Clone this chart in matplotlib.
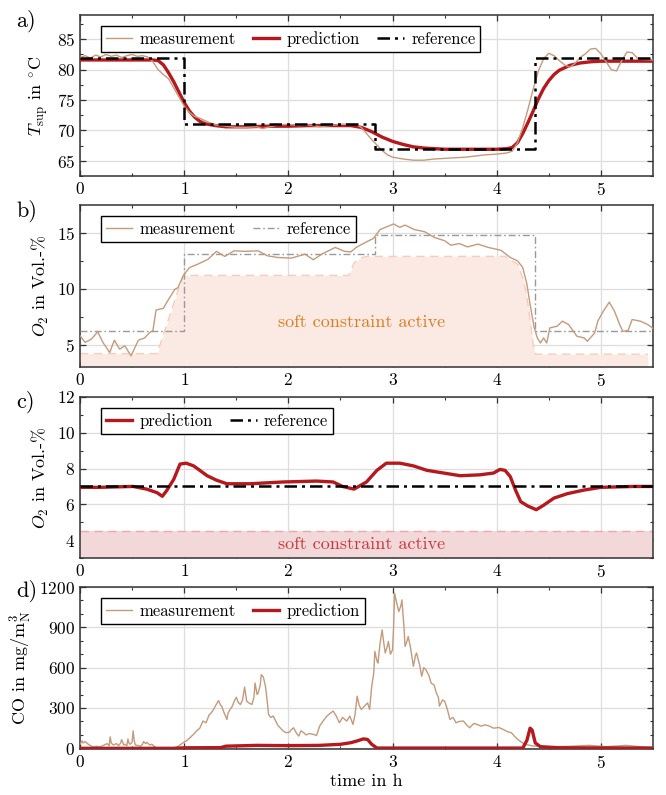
import numpy as np
import matplotlib
matplotlib.use('Agg')
import matplotlib.pyplot as plt

# ---- panel a: supply temperature ----
t_a_ref = [0, 1.0, 2.83, 4.37, 5.5]
a_ref = [82, 71, 67, 82, 82]

t_a_pred = [0, 0.3, 0.5, 0.7, 0.75, 0.8, 0.85, 0.9, 0.95, 1.0, 1.05, 1.1, 1.15, 1.2, 1.3, 1.4,
            1.6, 1.8, 2.0, 2.2, 2.4, 2.6, 2.7, 2.8, 2.9, 3.0, 3.1, 3.2, 3.3, 3.5, 3.8, 4.0,
            4.1, 4.15, 4.2, 4.25, 4.3, 4.35, 4.4, 4.45, 4.5, 4.55, 4.6, 4.7, 4.8, 4.9, 5.0, 5.2, 5.5]
a_pred = [81.6, 81.6, 81.6, 81.6, 81.5, 80.8, 79.5, 78.0, 76.3, 74.6, 73.2, 72.2, 71.5, 71.1, 70.8, 70.6,
          70.6, 70.7, 70.7, 70.8, 70.8, 70.8, 70.5, 69.8, 68.9, 68.2, 67.7, 67.3, 67.1, 66.9, 66.9, 66.9,
          67.0, 67.2, 68.0, 69.5, 71.3, 73.2, 75.2, 76.9, 78.2, 79.2, 79.9, 80.7, 81.1, 81.3, 81.4, 81.4, 81.4]

t_a_meas = [0, 0.05, 0.1, 0.15, 0.2, 0.25, 0.3, 0.35, 0.4, 0.45, 0.5, 0.55, 0.6, 0.65, 0.7, 0.75,
            0.8, 0.85, 0.9, 0.95, 1.0, 1.05, 1.1, 1.15, 1.2, 1.3, 1.4, 1.5, 1.6, 1.7, 1.75, 1.8,
            1.9, 2.0, 2.1, 2.2, 2.3, 2.4, 2.5, 2.6, 2.65, 2.7, 2.75, 2.8, 2.85, 2.9, 2.95, 3.0,
            3.1, 3.2, 3.3, 3.4, 3.5, 3.6, 3.7, 3.8, 3.9, 4.0, 4.1, 4.15, 4.2, 4.25, 4.3, 4.35,
            4.4, 4.45, 4.5, 4.55, 4.6, 4.65, 4.7, 4.75, 4.8, 4.85, 4.9, 4.95, 5.0, 5.05, 5.1,
            5.15, 5.2, 5.25, 5.3, 5.35, 5.4, 5.5]
a_meas = [82.0, 82.3, 81.9, 82.4, 82.1, 82.5, 82.2, 82.4, 82.0, 82.3, 82.5, 82.2, 82.3, 82.1, 81.3, 80.0,
          79.2, 78.5, 77.0, 75.5, 74.0, 73.0, 72.3, 72.0, 71.6, 70.9, 70.7, 70.5, 70.5, 70.6, 70.3, 70.5,
          70.9, 71.0, 70.8, 70.9, 70.6, 70.8, 71.0, 71.0, 71.0, 70.5, 69.5, 68.5, 67.6, 66.7, 66.0, 65.6,
          65.3, 65.1, 65.1, 65.3, 65.4, 65.5, 65.6, 65.8, 66.0, 66.1, 66.3, 66.6, 68.0, 70.5, 73.5, 76.8,
          79.8, 81.8, 82.7, 82.3, 81.5, 80.8, 80.4, 81.0, 82.0, 82.6, 83.4, 83.5, 82.6, 81.3, 80.0,
          79.8, 81.5, 82.9, 82.8, 81.9, 81.7, 81.6]

# ---- panel b: O2 measurement ----
t_b_ref = [0, 1.0, 2.83, 4.37, 5.5]
b_ref = [6.2, 13.1, 14.8, 6.2, 6.2]

t_b_soft = [0, 0.74, 0.99, 2.58, 2.63, 2.69, 2.75, 4.08, 4.2, 4.26, 4.3, 4.35, 4.37, 5.45]
b_soft = [4.2, 4.2, 11.2, 11.2, 12.3, 12.75, 12.9, 12.9, 12.2, 10.7, 8.6, 5.0, 4.15, 4.15]

t_b_meas = [0, 0.05, 0.11, 0.17, 0.22, 0.285, 0.33, 0.38, 0.43, 0.49, 0.56, 0.62, 0.67, 0.70,
            0.73, 0.80, 0.84, 0.91, 0.94, 0.99, 1.05, 1.13, 1.23, 1.31, 1.39, 1.48, 1.58, 1.71,
            1.80, 1.90, 2.03, 2.16, 2.24, 2.32, 2.45, 2.54, 2.60, 2.65, 2.75, 2.815, 2.88, 3.01,
            3.07, 3.12, 3.21, 3.31, 3.40, 3.50, 3.56, 3.64, 3.72, 3.82, 3.92, 4.04, 4.13, 4.20,
            4.25, 4.29, 4.32, 4.36, 4.39, 4.42, 4.45, 4.48, 4.51, 4.58, 4.63, 4.69, 4.77, 4.84,
            4.87, 4.94, 4.97, 5.02, 5.08, 5.13, 5.18, 5.21, 5.26, 5.30, 5.38, 5.45, 5.5]
b_meas = [5.8, 5.2, 5.5, 6.15, 5.2, 4.3, 5.4, 4.6, 4.9, 4.0, 5.4, 5.6, 6.1, 6.25,
          8.1, 8.25, 8.9, 9.95, 10.1, 11.15, 11.9, 12.2, 12.65, 13.35, 12.9, 13.4, 13.35, 13.4,
          12.95, 12.8, 12.75, 13.1, 12.6, 13.1, 13.7, 13.35, 13.3, 13.7, 14.2, 14.5, 15.3, 15.8,
          15.5, 15.7, 15.3, 15.1, 14.6, 14.3, 13.9, 14.05, 13.75, 14.0, 13.7, 13.45, 12.8, 12.5,
          11.9, 10.4, 8.6, 6.5, 5.6, 5.15, 5.6, 5.15, 6.5, 6.65, 7.1, 6.8, 5.75, 5.6,
          5.3, 6.05, 7.1, 7.95, 8.8, 8.0, 6.8, 6.2, 6.25, 7.25, 7.1, 6.8, 6.45]

# ---- panel c: O2 prediction ----
t_c_ref = [0, 5.5]
c_ref = [7.0, 7.0]
c_soft_low, c_soft_high = 3.0, 4.5

t_c_pred = [0, 0.19, 0.51, 0.64, 0.74, 0.79, 0.83, 0.90, 0.96, 1.02, 1.09, 1.15, 1.22, 1.31,
            1.41, 1.63, 1.95, 2.27, 2.43, 2.52, 2.63, 2.75, 2.85, 2.94, 3.07, 3.20, 3.33, 3.49,
            3.65, 3.84, 3.97, 4.03, 4.08, 4.13, 4.18, 4.23, 4.30, 4.38, 4.45, 4.55, 4.68, 4.84,
            5.00, 5.32, 5.5]
c_pred = [6.95, 6.95, 7.0, 6.85, 6.65, 6.45, 6.75, 7.4, 8.25, 8.3, 8.15, 7.9, 7.6, 7.35,
          7.15, 7.15, 7.25, 7.3, 7.25, 7.0, 6.85, 7.25, 7.9, 8.3, 8.3, 8.15, 7.9, 7.75,
          7.6, 7.65, 7.75, 7.95, 7.9, 7.55, 6.8, 6.15, 5.9, 5.7, 5.95, 6.35, 6.6, 6.8,
          6.95, 7.0, 7.0]

# ---- panel d: CO ----
t_d_meas = [0, 0.02, 0.03, 0.05, 0.08, 0.10, 0.13, 0.16, 0.19, 0.22,
            0.26, 0.28, 0.29, 0.30, 0.32, 0.35, 0.37, 0.39, 0.40, 0.42,
            0.43, 0.45, 0.46, 0.47, 0.48, 0.50, 0.51, 0.52, 0.53, 0.56,
            0.58, 0.60, 0.61, 0.63, 0.64, 0.67, 0.69, 0.72, 0.74, 0.90,
            0.93, 0.96, 0.99, 1.02, 1.05, 1.09, 1.12, 1.15, 1.18, 1.21,
            1.24, 1.26, 1.29, 1.31, 1.33, 1.35, 1.36, 1.38, 1.41, 1.42,
            1.44, 1.46, 1.48, 1.50, 1.52, 1.54, 1.56, 1.58, 1.60, 1.62,
            1.65, 1.67, 1.68, 1.70, 1.71, 1.73, 1.74, 1.76, 1.78, 1.80,
            1.81, 1.83, 1.855, 1.88, 1.90, 1.92, 1.95, 1.98, 2.01, 2.03,
            2.05, 2.08, 2.10, 2.12, 2.14, 2.17, 2.20, 2.24, 2.27, 2.30,
            2.33, 2.37, 2.40, 2.43, 2.46, 2.49, 2.52, 2.56, 2.59, 2.62,
            2.64, 2.66, 2.68, 2.70, 2.73, 2.76, 2.78, 2.80, 2.82, 2.83,
            2.85, 2.86, 2.88, 2.90, 2.92, 2.93, 2.95, 2.96, 2.98, 3.00,
            3.01, 3.02, 3.04, 3.06, 3.08, 3.09, 3.11, 3.12, 3.14, 3.15,
            3.17, 3.20, 3.22, 3.23, 3.26, 3.28, 3.30, 3.32, 3.35, 3.37,
            3.40, 3.42, 3.44, 3.45, 3.48, 3.50, 3.53, 3.55, 3.58, 3.61,
            3.64, 3.68, 3.71, 3.74, 3.78, 3.81, 3.85, 3.89, 3.93, 3.97,
            4.02, 4.06, 4.10, 4.14, 4.17, 4.20, 4.24, 4.27, 4.35, 4.51,
            4.70, 4.89, 5.05, 5.24, 5.40, 5.50]
d_meas = [30, 55, 40, 50, 30, 20, 10, 15, 10, 20,
          35, 20, 85, 40, 25, 35, 20, 40, 65, 25,
          30, 20, 70, 40, 30, 45, 130, 60, 25, 20,
          15, 30, 50, 35, 45, 25, 30, 10, 0, 0,
          10, 25, 42, 55, 75, 104, 130, 150, 203, 190,
          250, 264, 300, 330, 355, 320, 314, 270, 215, 260,
          289, 310, 350, 380, 340, 326, 360, 455, 350, 338,
          326, 380, 486, 400, 412, 470, 548, 530, 462, 330,
          252, 230, 240, 200, 170, 153, 130, 116, 120, 140,
          153, 110, 91, 130, 121, 100, 110, 104, 95, 165,
          200, 240, 260, 277, 240, 190, 230, 203, 240, 178,
          250, 388, 320, 289, 314, 338, 289, 462, 560, 721,
          650, 634, 780, 881, 760, 709, 760, 795, 700, 733,
          900, 1153, 1080, 1017, 1060, 1104, 900, 758, 800, 832,
          760, 610, 690, 709, 620, 536, 600, 585, 540, 486,
          470, 412, 380, 314, 360, 351, 280, 215, 230, 190,
          200, 203, 175, 153, 185, 178, 165, 175, 165, 150,
          155, 141, 125, 116, 90, 67, 45, 30, 17, 12,
          15, 22, 12, 22, 10, 5]

t_d_pred = [0, 0.9, 1.0, 1.35, 1.4, 1.7, 2.0, 2.3, 2.5, 2.6, 2.66, 2.72, 2.76, 2.80, 2.85,
            4.25, 4.29, 4.32, 4.34, 4.37, 4.42, 4.6, 5.5]
d_pred = [0, 0, 4, 5, 16, 22, 20, 22, 30, 42, 55, 70, 66, 30, 2,
          2, 60, 150, 135, 40, 12, 4, 2]

# ---- styling ----
col_meas = '#C49A7C'
col_pred = '#B5191E'
col_ref_gray = '#9A9A9A'
col_soft_b = '#FBEAE4'
col_soft_b_edge = '#F5CDBB'
col_soft_b_text = '#DE7B1E'
col_soft_c = '#F3D8D9'
col_soft_c_edge = '#EFA7A8'
col_soft_c_text = '#C8373C'
ref_dash = (0, (5, 2, 1.2, 2))

plt.rcParams['font.family'] = 'cmr10'
plt.rcParams['mathtext.fontset'] = 'cm'
plt.rcParams['axes.formatter.use_mathtext'] = True
plt.rcParams['axes.unicode_minus'] = False

fig = plt.figure(figsize=(6.66, 7.95), dpi=100)
left, width = 80/666, 573/666
tops = [15, 205, 397, 587]
heights = [161, 162, 161, 162]
axes = []
for tp, h in zip(tops, heights):
    ax = fig.add_axes([left, 1 - (tp + h)/795, width, h/795])
    axes.append(ax)

leg_kw = dict(loc='upper left', bbox_to_anchor=(0.036, 0.93), borderaxespad=0,
              fancybox=False, framealpha=1, edgecolor='black', fontsize=12,
              handlelength=1.6, columnspacing=1.0, handletextpad=0.45, borderpad=0.3)

# a)
ax = axes[0]
ax.plot(t_a_pred, a_pred, color=col_pred, lw=2.4, zorder=3, label='prediction')
ax.plot(t_a_meas, a_meas, color=col_meas, lw=1.0, zorder=4, label='measurement')
ax.plot(t_a_ref, a_ref, color='black', lw=1.8, ls=ref_dash, drawstyle='steps-post', zorder=5,
        label='reference')
ax.set_ylim(62.5, 89)
ax.set_yticks([65, 70, 75, 80, 85])
ax.set_yticks(np.arange(62.5, 89, 2.5), minor=True)
ax.set_ylabel(r'$T_{\mathrm{sup}}$ in $^{\circ}$C', fontsize=13)
h, l = ax.get_legend_handles_labels()
ax.legend([h[1], h[0], h[2]], [l[1], l[0], l[2]], ncol=3, **leg_kw)

# b)
ax = axes[1]
ax.fill_between(t_b_soft, 3, b_soft, color=col_soft_b, lw=0, zorder=1)
ax.plot(t_b_soft, b_soft, color=col_soft_b_edge, lw=1.0, ls=(0, (6, 4)), zorder=1.5)
ax.plot(t_b_meas, b_meas, color=col_meas, lw=1.0, zorder=4, label='measurement')
ax.plot(t_b_ref, b_ref, color=col_ref_gray, lw=1.0, ls=ref_dash, drawstyle='steps-post', zorder=3,
        label='reference')
ax.text(2.7, 7.0, 'soft constraint active', color=col_soft_b_text, fontsize=13,
        ha='center', va='center')
ax.set_ylim(3, 17.5)
ax.set_yticks([5, 10, 15])
ax.set_yticks(np.arange(5, 17.5, 2.5), minor=True)
ax.set_ylabel(r'$O_2$ in Vol.-%', fontsize=13)
ax.legend(ncol=2, **leg_kw)

# c)
ax = axes[2]
ax.axhspan(c_soft_low, c_soft_high, color=col_soft_c, lw=0, zorder=1)
ax.axhline(c_soft_high, color=col_soft_c_edge, lw=1.0, ls=(0, (6, 4)), zorder=1.5)
ax.plot(t_c_pred, c_pred, color=col_pred, lw=2.4, zorder=3, label='prediction')
ax.plot(t_c_ref, c_ref, color='black', lw=1.8, ls=ref_dash, zorder=4, label='reference')
ax.text(2.7, 3.75, 'soft constraint active', color=col_soft_c_text, fontsize=13,
        ha='center', va='center')
ax.set_ylim(3, 12)
ax.set_yticks([4, 6, 8, 10, 12])
ax.set_yticks(np.arange(3, 12, 1), minor=True)
ax.set_ylabel(r'$O_2$ in Vol.-%', fontsize=13)
ax.legend(ncol=2, **leg_kw)

# d)
ax = axes[3]
ax.plot(t_d_meas, d_meas, color=col_meas, lw=1.0, zorder=3, label='measurement')
ax.plot(t_d_pred, d_pred, color=col_pred, lw=2.4, zorder=4, label='prediction')
ax.set_ylim(-5, 1200)
ax.set_yticks([0, 300, 600, 900, 1200])
ax.set_yticks(np.arange(100, 1200, 100), minor=True)
ax.set_ylabel(r'CO in mg/m$^{3}_{\mathrm{N}}$', fontsize=13)
ax.set_xlabel('time in h', fontsize=13, labelpad=2)
ax.legend(ncol=2, **leg_kw)

for ax in axes:
    ax.set_xlim(0, 5.5)
    ax.set_xticks([0, 1, 2, 3, 4, 5])
    ax.set_xticks(np.arange(0.5, 5.5, 1.0), minor=True)
    ax.grid(True, which='major', color='#DDDDDD', lw=0.9, zorder=0)
    ax.set_axisbelow(True)
    ax.tick_params(which='both', direction='in', top=True, right=True, labelsize=12.5,
                   color='#333333')
    ax.tick_params(which='major', length=4.5, width=0.9)
    ax.tick_params(which='minor', length=2.5, width=0.8)
    for s in ax.spines.values():
        s.set_color('#333333')
        s.set_linewidth(1.1)

for lab, yc in zip(['a)', 'b)', 'c)', 'd)'], [21, 211, 402, 591]):
    fig.text(16/666, 1 - yc/795, lab, fontsize=16, ha='left', va='center')

fig.savefig('out.png', dpi=100)
